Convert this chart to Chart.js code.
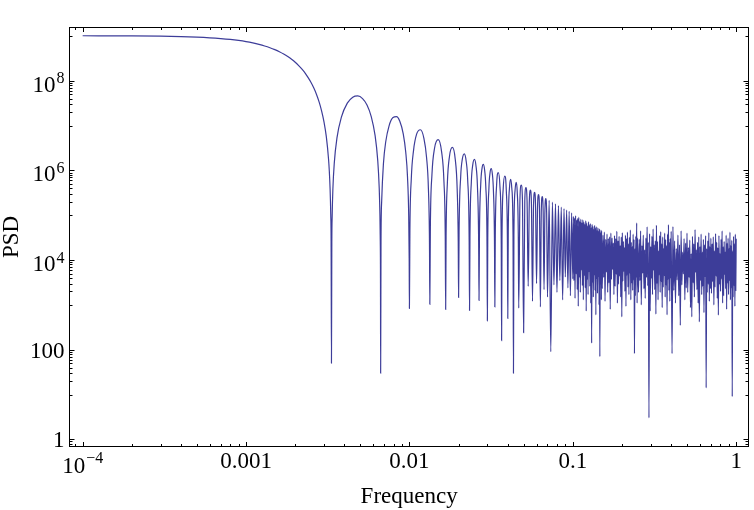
<!DOCTYPE html>
<html>
<head>
<meta charset="utf-8">
<title>PSD</title>
<script src="https://cdn.jsdelivr.net/npm/chart.js@4.4.1/dist/chart.umd.min.js"></script>
<style>
  html, body { margin: 0; padding: 0; background: #fff; }
  canvas { display: block; }
</style>
</head>
<body>
<canvas id="psdChart" width="754" height="510"></canvas>
<script>
// Values (log-log, frequency vs PSD)

// flat part and main lobe, down to the first null
const mainLobeFreq = [0.0001, 0.0002, 0.0003, 0.0004, 0.0005, 0.0006, 0.0007, 0.0008, 0.0009, 0.001,
    0.0011, 0.0012, 0.0013, 0.0014, 0.0015, 0.0016, 0.0017, 0.0018, 0.0019, 0.002,
    0.0021, 0.0022, 0.0023, 0.0024, 0.0025, 0.0026, 0.0027, 0.0028, 0.0029, 0.003,
    0.0031, 0.0032, 0.0032333, 0.0032667, 0.0033, 0.0033167, 0.0033333];
const mainLobePsd = [1.017e9, 1.008e9, 9.93e8, 9.72e8, 9.47e8, 9.16e8, 8.80e8, 8.41e8, 7.98e8, 7.52e8,
    7.03e8, 6.53e8, 6.02e8, 5.50e8, 4.98e8, 4.47e8, 3.97e8, 3.49e8, 3.03e8, 2.60e8,
    2.19e8, 1.82e8, 1.49e8, 1.18e8, 9.19e7, 6.90e7, 4.98e7, 3.40e7, 2.15e7, 1.22e7,
    5.68e6, 1.76e6, 9.73e5, 4.24e5, 1.04e5, 2.6e4, 50];

// side lobes up to f = 0.1, one line per lobe
const sideLobeFreq = [
    0.00335, 0.0033667, 0.0034, 0.0034667, 0.0036, 0.0038333, 0.0041667, 0.0045, 0.0048333, 0.0051667, 0.0055, 0.0058333, 0.0061667, 0.0064, 0.0065333, 0.0066, 0.0066333, 0.00665, 0.0066667,
    0.0067, 0.0067667, 0.0069333, 0.0071667, 0.0075, 0.0079333, 0.0083333, 0.0087333, 0.0091667, 0.0095, 0.0097333, 0.0099, 0.0099667, 0.01,
    0.0100667, 0.0102667, 0.0106, 0.0110667, 0.0116667, 0.0122667, 0.0127333, 0.0130667, 0.0132667, 0.0133333,
    0.0134333, 0.0137333, 0.0142667, 0.015, 0.0157333, 0.0162667, 0.0165667, 0.0166667,
    0.0167667, 0.0170667, 0.0176, 0.0183333, 0.0190667, 0.0196, 0.0199, 0.02,
    0.0201333, 0.0206, 0.0210667, 0.0216667, 0.0222667, 0.0227333, 0.0232, 0.0233333,
    0.0234667, 0.0239333, 0.0244, 0.025, 0.0256, 0.0260667, 0.0265333, 0.0266667,
    0.0268333, 0.0273333, 0.0278333, 0.0283333, 0.0288333, 0.0293333, 0.0298333, 0.03,
    0.0301667, 0.0306667, 0.0311667, 0.0316667, 0.0321667, 0.0326667, 0.0331667, 0.0333333,
    0.0335333, 0.0341667, 0.035, 0.0358333, 0.0364667, 0.0366667,
    0.0368667, 0.0375, 0.0383333, 0.0391667, 0.0398, 0.04,
    0.0402667, 0.041, 0.0416667, 0.0423333, 0.0430667, 0.0433333,
    0.0436, 0.0443333, 0.045, 0.0456667, 0.0464, 0.0466667,
    0.0475, 0.0483333, 0.0491667, 0.05,
    0.0508333, 0.0516667, 0.0525, 0.0533333,
    0.0541667, 0.055, 0.0558333, 0.0566667,
    0.0575, 0.0583333, 0.0591667, 0.06,
    0.0608333, 0.0616667, 0.0625, 0.0633333,
    0.0641667, 0.065, 0.0658333, 0.0666667,
    0.0675, 0.0683333, 0.0691667, 0.07,
    0.0716667, 0.0733333, 0.075, 0.0766667, 0.0783333, 0.08, 0.0816667, 0.0833333, 0.085, 0.0866667,
    0.0883333, 0.09, 0.0916667, 0.0933333, 0.095, 0.0966667, 0.0983333, 0.1
];
const sideLobePsd = [
    24000, 96000, 376000, 1.44e6, 5.26e6, 1.55e7, 3.18e7, 4.33e7, 4.61e7, 4.03e7, 2.9e7, 1.62e7, 5.98e6, 1.66e6, 406000, 99800, 24700, 6200, 30,
    24300, 214000, 1.42e6, 4.43e6, 9.81e6, 1.516e7, 1.589e7, 1.251e7, 6.57e6, 2.52e6, 720000, 99700, 11000, 830,
    42900, 647000, 2.82e6, 6.46e6, 8.11e6, 5.23e6, 1.95e6, 399000, 24600, 1030,
    54200, 793000, 3.22e6, 4.9e6, 2.64e6, 565000, 35600, 790,
    34800, 513000, 2.11e6, 3.28e6, 1.8e6, 389000, 24700, 1470,
    42800, 737000, 1.77e6, 2.35e6, 1.59e6, 613000, 32200, 750,
    31500, 551000, 1.32e6, 1.77e6, 1.2e6, 466000, 24600, 1260,
    37500, 510000, 1.13e6, 1.37e6, 1.05e6, 443000, 30400, 440,
    29700, 405000, 902000, 1.1e6, 847000, 357000, 24600, 900,
    34400, 473000, 900000, 430000, 29000, 160,
    28500, 392000, 751000, 360000, 24400, 500,
    42000, 430000, 636000, 403000, 36800, 30,
    36000, 367000, 545000, 346000, 31700, 850,
    244000, 472000, 228000, 240,
    213000, 413000, 200000, 2600,
    188000, 365000, 177000, 1200,
    167000, 324000, 158000, 3000,
    149000, 290000, 141000, 900,
    135000, 261000, 127000, 2200,
    122000, 236000, 115000, 1500,
    215000, 90, 196000, 2800, 180000, 1900, 165000, 3500, 153000, 1300,
    141000, 4200, 131000, 2400, 122000, 1600, 114000, 3800
];

// noisy part from 0.1 to 1, peaks and dips alternate
const noiseFreq = [
    0.1008, 0.1016, 0.1024, 0.1032, 0.104, 0.1048, 0.1056, 0.1064, 0.1072, 0.108,
    0.1088, 0.1096, 0.1104, 0.1112, 0.112, 0.1128, 0.1136, 0.1144, 0.1152, 0.116,
    0.1168, 0.1176, 0.1184, 0.1192, 0.12, 0.1208, 0.1216, 0.1224, 0.1232, 0.124,
    0.1248, 0.1256, 0.1264, 0.1272, 0.128, 0.1288, 0.1296, 0.1304, 0.1312, 0.132,
    0.1328, 0.1336, 0.1344, 0.1352, 0.136, 0.1368, 0.1376, 0.1384, 0.1392, 0.14,
    0.1408, 0.1416, 0.1424, 0.1432, 0.144, 0.1448, 0.1456, 0.1464, 0.1472, 0.148,
    0.1488, 0.1496,
    0.15, 0.1515, 0.153, 0.1545, 0.156, 0.1575, 0.159, 0.1605, 0.162, 0.1635,
    0.165, 0.1665, 0.168, 0.1695, 0.171, 0.1725, 0.174, 0.1755, 0.177, 0.1785,
    0.18, 0.1815, 0.183, 0.1845, 0.186, 0.1875, 0.189, 0.1905, 0.192, 0.1935,
    0.195, 0.1965, 0.198, 0.1995, 0.201, 0.2025, 0.204, 0.2055, 0.207, 0.2085,
    0.21, 0.2115, 0.213, 0.2145, 0.216, 0.2175, 0.219, 0.2205, 0.222, 0.2235,
    0.225, 0.2265, 0.228, 0.2295, 0.231, 0.2325, 0.234, 0.2355, 0.237, 0.2385,
    0.24, 0.2415, 0.243, 0.2445, 0.246, 0.2475, 0.249,
    0.2525, 0.255, 0.2575, 0.26, 0.2625, 0.265, 0.2675, 0.27, 0.2725, 0.275,
    0.2775, 0.28, 0.2825, 0.285, 0.2875, 0.29, 0.2925, 0.295, 0.2975, 0.3,
    0.3025, 0.305, 0.3075, 0.31, 0.3125, 0.315, 0.3175, 0.32, 0.3225, 0.325,
    0.3275, 0.33, 0.3325, 0.335, 0.3375, 0.34, 0.3425, 0.345, 0.3475, 0.35,
    0.3525, 0.355, 0.3575, 0.36, 0.3625, 0.365, 0.3675, 0.37, 0.3725, 0.375,
    0.3775, 0.38, 0.3825, 0.385, 0.3875, 0.39, 0.3925, 0.395, 0.3975, 0.4,
    0.405, 0.41, 0.415, 0.42, 0.425, 0.43, 0.435, 0.44, 0.445, 0.45,
    0.455, 0.46, 0.465, 0.47, 0.475, 0.48, 0.485, 0.49, 0.495, 0.5,
    0.505, 0.51, 0.515, 0.52, 0.525, 0.53, 0.535, 0.54, 0.545, 0.55,
    0.555, 0.56, 0.565, 0.57, 0.575, 0.58, 0.585, 0.59, 0.595, 0.6,
    0.605, 0.61, 0.615, 0.62, 0.625, 0.63, 0.635, 0.64, 0.645, 0.65,
    0.655, 0.66, 0.665, 0.67, 0.675, 0.68, 0.685, 0.69, 0.695, 0.7,
    0.706, 0.712, 0.718, 0.724, 0.73, 0.736, 0.742, 0.748, 0.754, 0.76,
    0.766, 0.772, 0.778, 0.784, 0.79, 0.796, 0.802, 0.808, 0.814, 0.82,
    0.826, 0.832, 0.838, 0.844, 0.85, 0.856, 0.862, 0.868, 0.874, 0.88,
    0.886, 0.892, 0.898, 0.904, 0.91, 0.916, 0.922, 0.928, 0.934, 0.94,
    0.946, 0.952, 0.958, 0.964, 0.97, 0.976, 0.982, 0.988, 0.994, 1.0
];
const noisePsd = [
    95000, 3500, 88000, 1400, 98000, 4900, 79000, 2200, 86000, 930,
    91000, 4100, 74000, 1900, 82000, 6000, 69000, 2700, 80000, 1300,
    71000, 4500, 64000, 2400, 76000, 730, 68000, 3700, 59000, 1700,
    72000, 5500, 61000, 2600, 66000, 1100, 54000, 140, 63000, 3200,
    57000, 1500, 49000, 4700, 60000, 2100, 52000, 600, 56000, 3900,
    46000, 1800, 53000, 4300, 44000, 1000, 50000, 70, 41000, 2900,
    47000, 1300,
    45000, 2300, 36000, 4100, 42000, 1200, 29000, 5400, 38000, 1900,
    30000, 3100, 33000, 800, 40000, 3700, 31000, 6200, 24000, 1700,
    35000, 2600, 30000, 4800, 44000, 1100, 27000, 2900, 34000, 4400,
    21000, 1500, 33000, 540, 41000, 3400, 26000, 5600, 19000, 2000,
    36000, 930, 30000, 4600, 42000, 2500, 23000, 1700, 32000, 5200,
    47000, 1300, 25000, 3100, 20000, 2100, 38000, 3600, 29000, 82,
    18000, 1600, 34000, 4200, 68000, 1100, 31000,
    1900, 29000, 3500, 45000, 1000, 21000, 5100, 36000, 2300, 17000,
    1400, 31000, 4100, 55000, 2700, 25000, 3, 39000, 730, 20000,
    3900, 34000, 1700, 49000, 5900, 22000, 2200, 27000, 620, 60000,
    3000, 26000, 1300, 16000, 4700, 35000, 1900, 43000, 3300, 23000,
    870, 33000, 2500, 18000, 4500, 40000, 1500, 29000, 2800, 21000,
    600, 38000, 3700, 62000, 2100, 25000, 1200, 30000, 4000, 44000,
    82, 56000, 2100, 27000, 1100, 18000, 3600, 36000, 1600, 22000,
    350, 45000, 2800, 15000, 4900, 30000, 1300, 24000, 2400, 40000,
    1900, 19000, 4100, 28000, 870, 14000, 540, 34000, 3100, 23000,
    1500, 48000, 5300, 17000, 2200, 25000, 1100, 33000, 420, 20000,
    3500, 38000, 1700, 15000, 2600, 29000, 670, 22000, 4300, 35000,
    14, 18000, 1900, 27000, 2900, 41000, 1200, 20000, 2300, 31000,
    1800, 23000, 3300, 33000, 1000, 16000, 2500, 39000, 4400, 25000,
    1400, 19000, 590, 35000, 2900, 14000, 2000, 29000, 3800, 45000,
    1100, 20000, 1600, 26000, 4800, 15000, 2300, 36000, 800, 24000,
    3100, 31000, 1700, 18000, 3500, 42000, 1300, 21000, 2400, 28000,
    9, 16000, 1500, 34000, 2700, 23000, 930, 38000, 2100, 30000
];

const xTicks = [1e-4, 0.001, 0.01, 0.1, 1];
const xTickLabels = ["10^\u22124", "0.001", "0.01", "0.1", "1"];
const yTicks = [1, 100, 1e4, 1e6, 1e8];
const yTickLabels = ["1", "100", "10^4", "10^6", "10^8"];
const xTitle = "Frequency";
const yTitle = "PSD";

const FONT = "Liberation Serif, Times New Roman, serif";
const LINE_COLOR = "#3d3d99";

const freq = mainLobeFreq.concat(sideLobeFreq, noiseFreq);
const psd = mainLobePsd.concat(sideLobePsd, noisePsd);
if (freq.length !== psd.length) {
    console.error("length mismatch", freq.length, psd.length);
}
const points = freq.map((f, i) => ({ x: f, y: psd[i] }));

// draws "base^exp" with a raised exponent, or plain text
function drawLabel(ctx, label, anchorX, baseY, expY, align) {
    const parts = label.split("^");
    ctx.font = "23px " + FONT;
    const wBase = ctx.measureText(parts[0]).width;
    let wExp = 0;
    if (parts[1]) {
        ctx.font = "16px " + FONT;
        wExp = ctx.measureText(parts[1]).width + 1;
    }
    const total = wBase + wExp;
    const left = align === "center" ? anchorX - total / 2 : anchorX - total;
    ctx.textAlign = "left";
    ctx.textBaseline = "alphabetic";
    ctx.font = "23px " + FONT;
    ctx.fillText(parts[0], left, parts[1] ? baseY.pow : baseY.plain);
    if (parts[1]) {
        ctx.font = "16px " + FONT;
        ctx.fillText(parts[1], left + wBase + 1, expY);
    }
}

const framePlugin = {
    id: "mmaFrame",
    afterDraw(chart) {
        const { ctx, chartArea: a } = chart;
        const xs = chart.scales.x, ys = chart.scales.y;
        const L = Math.round(a.left) + 0.5, R = Math.round(a.right) - 0.5;
        const T = Math.round(a.top) + 0.5, B = Math.round(a.bottom) - 0.5;

        ctx.save();
        ctx.strokeStyle = "#000";
        ctx.lineWidth = 1;
        ctx.strokeRect(L, T, R - L, B - T);

        // x ticks, bottom and top, pointing in
        ctx.beginPath();
        for (let d = -5; d <= 0; d++) {
            for (let m = 1; m <= 9; m++) {
                const v = m * Math.pow(10, d);
                if (v < xs.min || v > xs.max) continue;
                const len = m === 1 ? 4.5 : 2.5;
                const px = Math.round(xs.getPixelForValue(v)) + 0.5;
                ctx.moveTo(px, B); ctx.lineTo(px, B - len);
                ctx.moveTo(px, T); ctx.lineTo(px, T + len);
            }
        }
        // y ticks: big at even decades, small at 1..9 x odd decades
        for (let d = -1; d <= 9; d++) {
            const even = d % 2 === 0;
            for (let m = 1; m <= 9; m++) {
                if (even && m > 1) continue;
                const v = m * Math.pow(10, d);
                if (v < ys.min || v > ys.max) continue;
                const len = even ? 5 : 3;
                const py = Math.round(ys.getPixelForValue(v)) + 0.5;
                ctx.moveTo(L, py); ctx.lineTo(L + len, py);
                ctx.moveTo(R, py); ctx.lineTo(R - len, py);
            }
        }
        ctx.stroke();

        ctx.fillStyle = "#000";
        xTicks.forEach((v, i) => {
            const px = xs.getPixelForValue(v);
            drawLabel(ctx, xTickLabels[i], px, { plain: B + 21, pow: B + 26 }, B + 16, "center");
        });
        yTicks.forEach((v, i) => {
            const py = ys.getPixelForValue(v);
            drawLabel(ctx, yTickLabels[i], L - 5, { plain: py + 7.8, pow: py + 11 }, py + 2.5, "right");
        });

        ctx.font = "23px " + FONT;
        ctx.textAlign = "center";
        ctx.textBaseline = "alphabetic";
        ctx.fillText(xTitle, (a.left + a.right) / 2, 503);

        ctx.translate(18, (a.top + a.bottom) / 2);
        ctx.rotate(-Math.PI / 2);
        ctx.fillText(yTitle, 0, 0);
        ctx.restore();
    }
};

const ctx = document.getElementById("psdChart").getContext("2d");
new Chart(ctx, {
    type: "line",
    data: {
        datasets: [{
            data: points,
            borderColor: LINE_COLOR,
            borderWidth: 1.2,
            pointRadius: 0,
            cubicInterpolationMode: "monotone",
            fill: false
        }]
    },
    options: {
        responsive: false,
        animation: false,
        layout: { padding: { left: 69, right: 4.7, top: 27.3, bottom: 63.3 } },
        plugins: {
            legend: { display: false },
            tooltip: { enabled: false }
        },
        scales: {
            x: { type: "logarithmic", min: 8.25e-5, max: 1.203, display: false },
            y: { type: "logarithmic", min: 0.684, max: 1.57e9, display: false }
        }
    },
    plugins: [framePlugin]
});
</script>
</body>
</html>
